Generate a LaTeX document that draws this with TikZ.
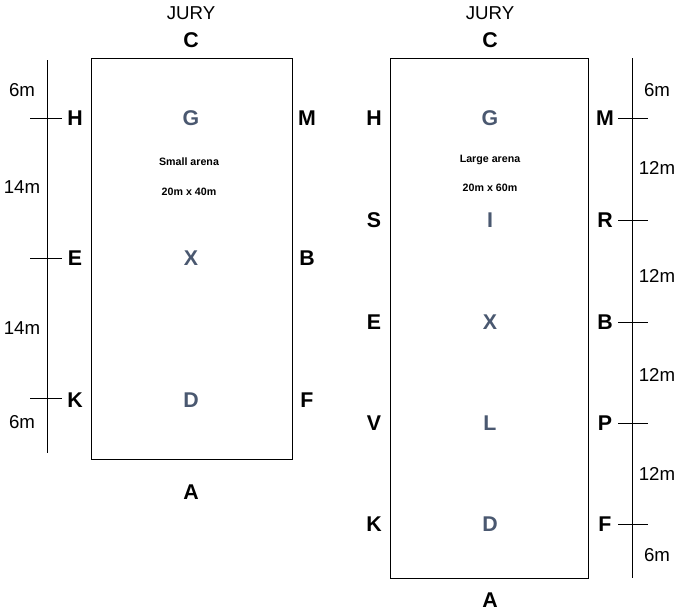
\documentclass[tikz,border=0pt]{standalone}
\usepackage{fontspec}
\setmainfont{Liberation Sans}
\definecolor{inner}{HTML}{4A5870}
\begin{document}
\begin{tikzpicture}[x=0.75pt,y=-0.75pt,
    letter/.style={font=\fontsize{16}{16}\selectfont\bfseries},
    inletter/.style={letter,text=inner},
    dist/.style={font=\fontsize{14}{14}\selectfont},
    info/.style={font=\fontsize{8}{8}\selectfont\bfseries}]
  \useasboundingbox (0,0) rectangle (688,615);
  % Small arena
  \draw (91,58) rectangle (292,459);
  \node[dist] (jurys) at (191,13) {JURY};
  \node[letter] (cs) at (191,40) {C};
  \node[letter] (as) at (191,492) {A};
  \foreach \y/\l/\m/\r in {118/H/G/M,258/E/X/B,400/K/D/F}{
    \node[letter] at (75,\y) {\l};
    \node[inletter] at (191,\y) {\m};
    \node[letter] at (307,\y) {\r};
  }
  \node[info] (smalltxt) at (189,162) {Small arena};
  \node[info] (smallsize) at (189,192) {20m x 40m};
  % Scale left
  \draw (47,60) -- (47,453);
  \foreach \y in {118,258,398}
    \draw (30,\y) -- (62,\y);
  \foreach \y/\t in {90/6m,187/14m,328/14m,422/6m}
    \node[dist] at (22,\y) {\t};
  % Large arena
  \draw (390,58) rectangle (588,578);
  \node[dist] (juryl) at (490,13) {JURY};
  \node[letter] (cl) at (490,40) {C};
  \node[letter] (al) at (490,600) {A};
  \foreach \y/\l/\m/\r in {118/H/G/M,220/S/I/R,322/E/X/B,423/V/L/P,524/K/D/F}{
    \node[letter] at (374,\y) {\l};
    \node[inletter] at (490,\y) {\m};
    \node[letter] at (605,\y) {\r};
  }
  \node[info] (largetxt) at (490,160) {Large arena};
  \node[info] (largesize) at (490,188) {20m x 60m};
  % Scale right
  \draw (632,58) -- (632,578);
  \foreach \y in {118,220,322,423,524}
    \draw (618,\y) -- (648,\y);
  \foreach \y/\t in {90/6m,168/12m,276/12m,375/12m,474/12m,555/6m}
    \node[dist] at (657,\y) {\t};
\end{tikzpicture}
\end{document}
